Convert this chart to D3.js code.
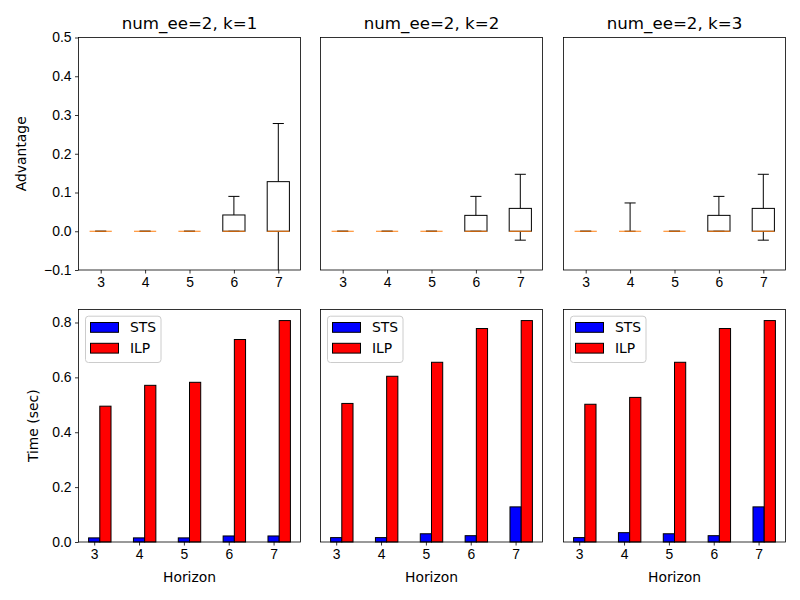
<!DOCTYPE html>
<html>
<head>
<meta charset="utf-8">
<script src="https://cdn.jsdelivr.net/npm/d3@7"></script>
<style>
  body { margin: 0; background: #fff; }
  svg { font-family: "DejaVu Sans", sans-serif; }
  .tick text { font-size: 13.9px; fill: #000; }
  .tick line { stroke: #000; stroke-width: 0.8; }
</style>
</head>
<body>
<svg width="800" height="600"></svg>
<script>
// ---- data ----
const horizons = [3, 4, 5, 6, 7]
const titles = ['num_ee=2, k=1', 'num_ee=2, k=2', 'num_ee=2, k=3']

// boxplot stats for "Advantage", one row per panel, one value per horizon
const whiskLo = [[0, 0, 0, 0, -0.12], [0, 0, 0, 0, -0.023], [0, 0, 0, 0, -0.023]]
const q1 = [[0, 0, 0, 0, 0], [0, 0, 0, 0, 0], [0, 0, 0, 0, 0]]
const med = [[0, 0, 0, 0, 0], [0, 0, 0, 0, 0], [0, 0, 0, 0, 0]]
const q3 = [[0, 0, 0, 0.042, 0.128], [0, 0, 0, 0.041, 0.059], [0, 0, 0, 0.041, 0.059]]
const whiskHi = [[0, 0, 0, 0.09, 0.278], [0, 0, 0, 0.09, 0.147], [0, 0.073, 0, 0.09, 0.147]]

// run times (sec)
const stsTime = [[0.015, 0.015, 0.015, 0.022, 0.022], [0.016, 0.016, 0.030, 0.023, 0.128], [0.016, 0.034, 0.030, 0.023, 0.128]]
const ilpTime = [[0.495, 0.571, 0.582, 0.738, 0.807], [0.505, 0.604, 0.655, 0.778, 0.807], [0.502, 0.527, 0.655, 0.778, 0.807]]

const advTicks = [-0.1, 0, 0.1, 0.2, 0.3, 0.4, 0.5]
const timeTicks = [0, 0.2, 0.4, 0.6, 0.8]
const series = [{name: 'STS', color: '#0000ff', data: stsTime}, {name: 'ILP', color: '#ff0000', data: ilpTime}]

// ---- layout ----
const lefts = [78.5, 320.5, 563.5]
const pw = 222
const top1 = 37.5, h1 = 232.5
const top2 = 309.5, h2 = 232.5
const barW = 0.25

let svg = d3.select('svg')

// shared scales
let xBox = d3.scaleLinear().domain([0.5, 5.5]).range([0, pw])
let yAdv = d3.scaleLinear().domain([-0.1, 0.5]).range([h1, 0])

let bxMin = d3.min(horizons) - barW / 2
let bxMax = d3.max(horizons) + barW * 1.5
let pad = (bxMax - bxMin) * 0.05
let xBar = d3.scaleLinear().domain([bxMin - pad, bxMax + pad]).range([0, pw])
let tMax = d3.max([...stsTime.flat(), ...ilpTime.flat()]) * 1.05
let yTime = d3.scaleLinear().domain([0, tMax]).range([h2, 0])

const fmt = d3.format('.1f')

function styleAxis(g) {
    g.select('.domain').remove()
    g.selectAll('.tick text').attr('fill', '#000')
}

titles.forEach((title, p) => {
    // ---------- top row: boxplots ----------
    let g = svg.append('g').attr('transform', `translate(${lefts[p]},${top1})`)

    g.append('clipPath').attr('id', 'clipA' + p)
    .append('rect').attr('width', pw).attr('height', h1)

    let plot = g.append('g').attr('clip-path', `url(#clipA${p})`)

    horizons.forEach((hz, i) => {
        let cx = xBox(i + 1)
        let bw = xBox(1.25) - xBox(1)
        let cw = xBox(1.125) - xBox(1)
        // whiskers
        plot.append('line').attr('x1', cx).attr('x2', cx)
        .attr('y1', yAdv(q3[p][i])).attr('y2', yAdv(whiskHi[p][i]))
        .attr('stroke', '#000').attr('stroke-width', 1)
        plot.append('line').attr('x1', cx).attr('x2', cx)
        .attr('y1', yAdv(q1[p][i])).attr('y2', yAdv(whiskLo[p][i]))
        .attr('stroke', '#000').attr('stroke-width', 1)
        // caps
        ;[whiskHi[p][i], whiskLo[p][i]].forEach(v => {
            plot.append('line').attr('x1', cx - cw).attr('x2', cx + cw)
            .attr('y1', yAdv(v)).attr('y2', yAdv(v))
            .attr('stroke', '#000').attr('stroke-width', 1)
        })
        // box
        plot.append('rect')
        .attr('x', cx - bw).attr('width', 2 * bw)
        .attr('y', yAdv(q3[p][i])).attr('height', yAdv(q1[p][i]) - yAdv(q3[p][i]))
        .attr('fill', 'none').attr('stroke', '#000').attr('stroke-width', 1)
        // median
        plot.append('line').attr('x1', cx - bw).attr('x2', cx + bw)
        .attr('y1', yAdv(med[p][i])).attr('y2', yAdv(med[p][i]))
        .attr('stroke', '#ff7f0e').attr('stroke-width', 1)
    })

    g.append('g').attr('transform', `translate(0,${h1})`)
    .call(d3.axisBottom(xBox).tickValues([1, 2, 3, 4, 5]).tickFormat(d => horizons[d - 1])
        .tickSize(3.5).tickPadding(3.5))
    .call(styleAxis)

    if (p === 0) {
        g.append('g')
        .call(d3.axisLeft(yAdv).tickValues(advTicks).tickFormat(fmt).tickSize(3.5).tickPadding(3.5))
        .call(styleAxis)
        g.append('text').text('Advantage')
        .attr('transform', `translate(${26 - lefts[0]},${h1 / 2}) rotate(-90)`)
        .attr('text-anchor', 'middle').style('font-size', '13.9px')
    }

    g.append('rect').attr('width', pw).attr('height', h1)
    .attr('fill', 'none').attr('stroke', '#000').attr('stroke-width', 0.8)

    g.append('text').text(title)
    .attr('x', pw / 2).attr('y', -8.5)
    .attr('text-anchor', 'middle').style('font-size', '16.67px')

    // ---------- bottom row: bars ----------
    let b = svg.append('g').attr('transform', `translate(${lefts[p]},${top2})`)

    series.forEach((s, si) => {
        b.selectAll('rect.bar' + si)
        .data(s.data[p])
        .enter()
        .append('rect')
        .attr('class', 'bar' + si)
        .attr('x', (d, i) => xBar(horizons[i] - barW / 2 + si * barW))
        .attr('width', xBar(barW) - xBar(0))
        .attr('y', d => yTime(d))
        .attr('height', d => yTime(0) - yTime(d))
        .attr('fill', s.color)
        .attr('stroke', '#000')
        .attr('stroke-width', 1)
    })

    b.append('g').attr('transform', `translate(0,${h2})`)
    .call(d3.axisBottom(xBar).tickValues(horizons).tickFormat(d3.format('d')).tickSize(3.5).tickPadding(3.5))
    .call(styleAxis)

    if (p === 0) {
        b.append('g')
        .call(d3.axisLeft(yTime).tickValues(timeTicks).tickFormat(fmt).tickSize(3.5).tickPadding(3.5))
        .call(styleAxis)
        b.append('text').text('Time (sec)')
        .attr('transform', `translate(${37.5 - lefts[0]},${h2 / 2}) rotate(-90)`)
        .attr('text-anchor', 'middle').style('font-size', '13.9px')
    }

    b.append('rect').attr('width', pw).attr('height', h2)
    .attr('fill', 'none').attr('stroke', '#000').attr('stroke-width', 0.8)

    b.append('text').text('Horizon')
    .attr('x', pw / 2).attr('y', h2 + 40)
    .attr('text-anchor', 'middle').style('font-size', '13.9px')

    // legend
    let lg = b.append('g').attr('transform', 'translate(7,6.7)')
    lg.append('rect').attr('width', 75.5).attr('height', 46.3)
    .attr('rx', 3).attr('ry', 3)
    .attr('fill', '#fff').attr('fill-opacity', 0.8)
    .attr('stroke', '#cccccc').attr('stroke-width', 1)

    series.forEach((s, si) => {
        lg.append('rect')
        .attr('x', 5).attr('y', 6.3 + si * 20.8)
        .attr('width', 28).attr('height', 9.8)
        .attr('fill', s.color).attr('stroke', '#000').attr('stroke-width', 1)
        lg.append('text').text(s.name)
        .attr('x', 44.5).attr('y', 16 + si * 20.8)
        .style('font-size', '13.9px')
    })
})
</script>
</body>
</html>
